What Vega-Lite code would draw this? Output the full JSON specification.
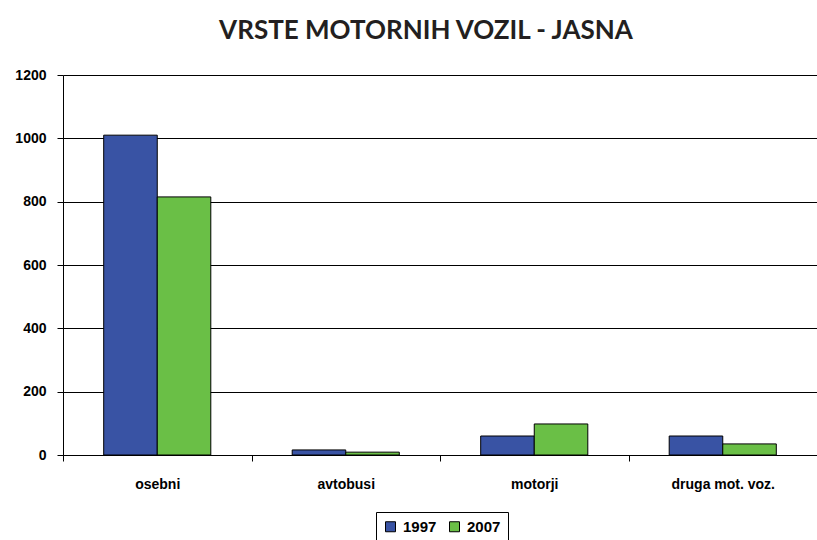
{
  "$schema": "https://vega.github.io/schema/vega-lite/v6.json",
  "width": 754,
  "height": 380,
  "autosize": "none",
  "padding": {"left": 63, "top": 75, "right": 0, "bottom": 85},
  "background": "white",
  "title": {
    "text": "VRSTE MOTORNIH VOZIL - JASNA",
    "font": "Lato",
    "fontSize": 26,
    "fontWeight": "bold",
    "color": "#231f20",
    "anchor": "middle",
    "dx": -14,
    "offset": 24
  },
  "data": {
    "values": [
      {"vrsta": "osebni", "leto": "1997", "stevilo": 1010},
      {"vrsta": "osebni", "leto": "2007", "stevilo": 815},
      {"vrsta": "avtobusi", "leto": "1997", "stevilo": 16},
      {"vrsta": "avtobusi", "leto": "2007", "stevilo": 9},
      {"vrsta": "motorji", "leto": "1997", "stevilo": 60},
      {"vrsta": "motorji", "leto": "2007", "stevilo": 98},
      {"vrsta": "druga mot. voz.", "leto": "1997", "stevilo": 60},
      {"vrsta": "druga mot. voz.", "leto": "2007", "stevilo": 35}
    ]
  },
  "mark": {"type": "bar", "stroke": "black", "strokeWidth": 1},
  "encoding": {
    "x": {
      "field": "vrsta",
      "type": "nominal",
      "sort": ["osebni", "avtobusi", "motorji", "druga mot. voz."],
      "scale": {"paddingInner": 0, "paddingOuter": 0},
      "axis": {
        "title": null,
        "labelAngle": 0,
        "labelFont": "Liberation Sans",
        "labelFontWeight": "bold",
        "labelFontSize": 14,
        "labelColor": "black",
        "labelPadding": 16,
        "tickBand": "extent",
        "tickColor": "black",
        "tickSize": 6,
        "domainColor": "black",
        "grid": false
      }
    },
    "xOffset": {
      "field": "leto",
      "type": "nominal",
      "scale": {"paddingInner": 0, "paddingOuter": 0.76}
    },
    "y": {
      "field": "stevilo",
      "type": "quantitative",
      "scale": {"domain": [0, 1200]},
      "axis": {
        "title": null,
        "values": [0, 200, 400, 600, 800, 1000, 1200],
        "format": "d",
        "labelFont": "Liberation Sans",
        "labelFontWeight": "bold",
        "labelFontSize": 14,
        "labelColor": "black",
        "labelPadding": 11,
        "tickColor": "black",
        "tickSize": 6,
        "domainColor": "black",
        "gridColor": "black",
        "gridOpacity": 1
      }
    },
    "color": {
      "field": "leto",
      "type": "nominal",
      "scale": {"domain": ["1997", "2007"], "range": ["#3953a4", "#6abf46"]},
      "legend": {
        "title": null,
        "orient": "none",
        "legendX": 313,
        "legendY": 437,
        "direction": "horizontal",
        "symbolType": "square",
        "symbolSize": 100,
        "symbolStrokeColor": "black",
        "symbolStrokeWidth": 1,
        "symbolOpacity": 1,
        "labelFont": "Liberation Sans",
        "labelFontWeight": "bold",
        "labelFontSize": 15,
        "labelColor": "black",
        "strokeColor": "black",
        "padding": 7,
        "columnPadding": 10,
        "labelOffset": 5
      }
    }
  },
  "config": {
    "view": {"stroke": null}
  }
}
